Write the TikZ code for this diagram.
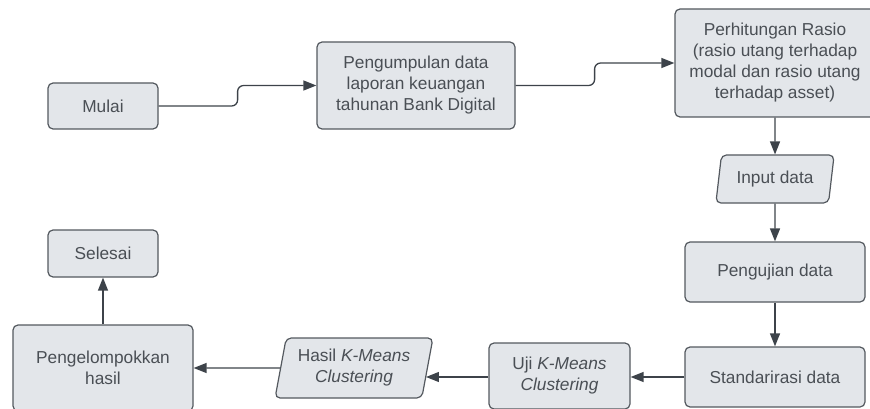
\documentclass[tikz,border=0pt]{standalone}
\usepackage{fontspec}
\setmainfont{Liberation Sans}
\usetikzlibrary{arrows.meta,shapes.geometric,calc}
\definecolor{boxfill}{HTML}{E3E6EA}
\definecolor{boxline}{HTML}{54595F}
\definecolor{txt}{HTML}{4A4F55}
\definecolor{arr}{HTML}{3D434A}
\begin{document}
\begin{tikzpicture}[x=1pt,y=-1pt,
  box/.style={draw=boxline, fill=boxfill, rounded corners=5pt, line width=1.2pt,
    text=txt, align=center, inner sep=0pt, font=\fontsize{17.3}{21}\selectfont},
  para/.style={box, trapezium, trapezium left angle=76, trapezium right angle=104,
    trapezium stretches=true},
  conn/.style={draw=arr, line width=1.3pt, -{Triangle[length=13pt,width=10pt]}, rounded corners=6pt}]
\useasboundingbox (0,0) rectangle (870,409);

\node[box, minimum width=110pt, minimum height=46pt] (mulai) at (103,106) {Mulai};
\node[box, minimum width=198pt, minimum height=87pt] (kumpul) at (416,85.5)
  {Pengumpulan data\\laporan keuangan\\tahunan Bank Digital};
\node[box, minimum width=200pt, minimum height=108pt] (rasio) at (775,63)
  {Perhitungan Rasio\\(rasio utang terhadap\\modal dan rasio utang\\terhadap asset)};
\node[para, minimum width=119pt, minimum height=48pt] (input) at (775,179) {Input data};
\node[box, minimum width=180pt, minimum height=60pt] (uji) at (775,272) {Pengujian data};
\node[box, minimum width=180pt, minimum height=60pt] (std) at (775,377) {Standarirasi data};
\node[box, minimum width=141pt, minimum height=66pt] (km) at (559.5,376)
  {Uji \textit{K-Means}\\\textit{Clustering}};
\node[para, minimum width=158pt, minimum height=60pt] (hasil) at (354,368)
  {Hasil \textit{K-Means}\\\textit{Clustering}};
\node[box, minimum width=180pt, minimum height=86pt] (kel) at (103,368)
  {Pengelompokkan\\hasil};
\node[box, minimum width=110pt, minimum height=47pt] (selesai) at (103,253.5) {Selesai};

\draw[conn] (mulai.east) -- ++(79,0) |- (kumpul.west);
\draw[conn] (kumpul.east) -- ++(79,0) |- (rasio.west);
\draw[conn] (rasio.south) -- (input.north);
\draw[conn] (input.south) -- (uji.north);
\draw[conn] (uji.south) -- (std.north);
\draw[conn] (std.west |- 0,377) -- (km.east |- 0,377);
\draw[conn] (km.west |- 0,377) -- ($(hasil.east |- 0,377)+(-2,0)$);
\draw[conn] (hasil.west) -- (kel.east);
\draw[conn] (kel.north) -- (selesai.south);
\end{tikzpicture}
\end{document}
